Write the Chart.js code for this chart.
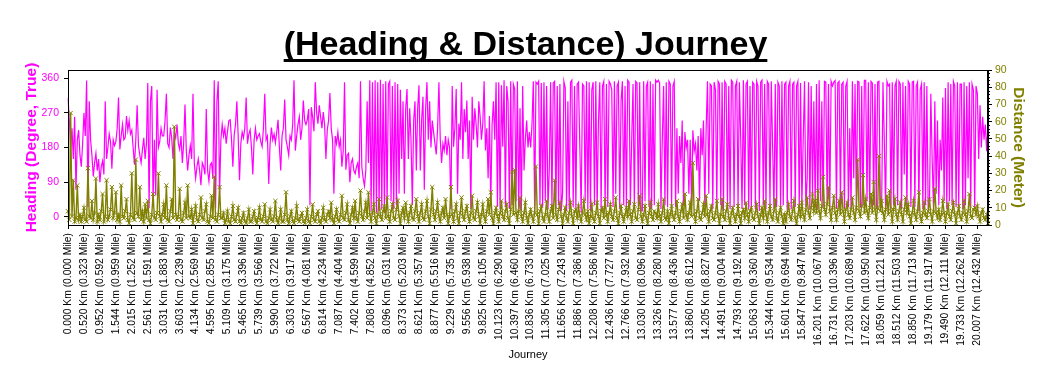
<!DOCTYPE html>
<html><head><meta charset="utf-8">
<script src="https://cdn.jsdelivr.net/npm/chart.js@4.4.0/dist/chart.umd.min.js"></script>
<style>html,body{margin:0;padding:0;background:#fff;}#wrap{width:1050px;height:383px;}</style>
</head><body><div id="wrap"><canvas id="c" width="1050" height="383"></canvas></div>
<script>
const chartTitle = "(Heading & Distance) Journey";
const kmLabels = ["0.000","0.520","0.952","1.544","2.015","2.561","3.031","3.603","4.134","4.595","5.109","5.465","5.739","5.990","6.303","6.567","6.814","7.087","7.402","7.808",
"8.096","8.373","8.621","8.877","9.229","9.556","9.825","10.123","10.397","10.836","11.305","11.656","11.886","12.208","12.436","12.766","13.030","13.326","13.577","13.860",
"14.205","14.491","14.793","15.063","15.344","15.601","15.847","16.201","16.731","17.203","17.622","18.059","18.512","18.850","19.179","19.490","19.733","20.007"];
const mileLabels = ["0.000","0.323","0.592","0.959","1.252","1.591","1.883","2.239","2.569","2.855","3.175","3.396","3.566","3.722","3.917","4.081","4.234","4.404","4.599","4.852",
"5.031","5.203","5.357","5.516","5.735","5.938","6.105","6.290","6.460","6.733","7.025","7.243","7.386","7.586","7.727","7.932","8.096","8.280","8.436","8.612",
"8.827","9.004","9.192","9.360","9.534","9.694","9.847","10.067","10.396","10.689","10.950","11.221","11.503","11.713","11.917","12.111","12.262","12.432"];
const headingTicks = [0, 90, 180, 270, 360];
const distanceTicks = [0, 10, 20, 30, 40, 50, 60, 70, 80, 90];
const heading = [
309,250,180,230,150,260,70,200,225,160,130,190,
270,210,354,25,300,200,160,105,140,165,120,150,
90,130,145,110,300,150,180,215,195,125,200,185,
195,230,310,175,210,240,200,205,262,225,250,215,
225,180,135,200,290,185,160,140,175,205,150,190,
348,22,300,340,40,200,55,330,180,195,230,210,
210,250,320,190,180,232,205,150,220,205,240,190,
175,210,140,190,292,170,120,160,185,150,320,140,
100,130,150,120,82,140,130,110,280,120,92,135,
140,100,355,22,300,352,60,200,240,210,230,190,
222,250,252,200,130,212,240,300,210,95,190,220,
205,230,310,190,215,226,180,110,200,230,200,210,
216,195,182,230,320,200,210,85,190,232,200,215,
192,220,252,180,120,210,230,305,200,182,160,210,
200,240,355,172,210,240,260,200,230,302,250,240,
252,280,30,285,260,222,350,270,242,290,260,230,
272,240,150,225,250,322,230,200,60,210,190,220,
182,200,130,170,350,122,160,165,90,140,150,120,
112,130,140,100,352,130,100,80,120,300,140,355,
15,350,20,355,10,350,15,356,20,345,10,352,
25,345,352,40,340,20,350,30,345,60,330,150,
300,60,280,332,150,282,200,30,250,300,120,280,
342,120,250,312,70,280,350,200,300,180,250,220,
190,162,230,350,202,140,190,172,210,160,200,180,
20,340,182,230,332,60,242,200,350,150,280,220,
302,150,250,20,312,200,282,240,180,300,260,200,
242,352,172,230,100,262,30,240,300,200,350,25,
350,20,342,182,355,25,340,300,20,352,30,345,
332,40,352,20,282,15,340,120,200,250,180,220,
180,240,352,15,350,345,352,30,348,25,350,40,
340,20,120,350,25,348,352,20,340,30,345,15,
60,352,335,15,300,20,350,355,25,340,20,345,
350,180,10,345,340,40,352,20,350,15,330,350,
30,352,20,250,350,15,340,352,20,345,25,352,
345,330,25,352,60,340,350,20,300,352,30,340,
20,355,350,30,200,345,20,352,348,25,350,15,
15,352,40,340,350,25,352,20,345,30,355,350,
355,348,20,200,340,30,350,25,352,345,20,340,
352,25,230,60,210,140,250,30,220,180,200,60,
200,30,225,170,190,120,210,40,230,160,250,25,
230,352,60,345,340,20,350,330,25,352,345,30,
350,15,352,345,30,340,20,355,350,25,340,352,
25,350,200,20,355,30,345,352,20,340,15,350,
345,20,352,340,15,350,355,30,345,20,352,345,
30,352,180,20,345,25,350,340,20,352,30,345,
350,15,340,352,20,345,350,25,340,352,20,348,
30,200,352,25,100,350,20,340,60,300,25,345,
20,355,40,300,25,352,350,30,345,20,352,340,
350,354,20,348,352,30,345,350,20,340,352,25,
230,20,352,100,345,15,352,350,25,340,30,355,
355,40,350,20,352,348,30,345,20,350,352,25,
25,350,200,15,352,340,345,20,350,30,340,352,
30,352,345,20,350,110,340,20,352,345,25,350,
352,25,340,350,15,330,345,20,350,30,340,20,
40,320,150,20,300,60,250,30,200,120,310,40,
335,20,350,40,345,30,352,340,25,350,20,345,
345,20,350,30,340,100,350,25,345,330,20,340,
320,150,290,180,260,200,240,170,240];
const distance = [
8,3,65,5,26,2,4,23,3,6,2,5,
10,3,2,33,5,4,14,3,7,27,2,6,
3,8,18,2,5,26,3,5,9,22,4,7,
19,3,6,2,23,5,4,8,15,3,1,6,
30,4,3,38,7,5,22,3,8,2,12,4,
14,3,1,6,18,4,3,7,30,5,2,6,
12,4,23,3,2,8,15,4,57,6,3,5,
21,3,2,7,13,4,23,5,4,9,1,6,
11,3,2,6,16,4,3,8,12,2,1,5,
17,4,28,3,2,6,22,4,4,7,1,3,
8,2,1,5,11,3,2,6,10,2,1,4,
7,2,1,4,9,2,2,5,8,3,1,4,
10,3,2,5,12,2,1,4,9,3,2,5,
14,3,1,4,9,2,2,6,19,3,1,5,
8,2,1,4,11,3,2,5,7,2,1,4,
9,2,1,5,12,3,2,6,8,2,1,4,
10,3,2,6,8,4,13,3,1,5,9,3,
2,6,17,4,3,7,12,3,1,6,10,4,
14,4,2,7,20,5,3,8,13,4,19,6,
2,7,12,4,1,6,15,5,3,8,11,4,
16,5,2,8,12,4,3,9,14,5,1,7,
10,4,13,6,2,7,11,4,3,8,15,5,
2,7,12,4,3,8,14,5,1,9,22,6,
3,8,13,5,2,7,10,4,15,6,1,5,
22,6,2,8,12,4,1,7,16,5,3,8,
11,5,2,7,17,4,3,8,13,5,1,6,
12,5,2,8,15,6,19,4,1,7,10,5,
2,7,14,5,3,8,12,4,1,9,31,6,
32,7,3,8,16,5,2,7,13,4,1,6,
9,5,2,7,34,6,1,8,11,4,2,6,
14,5,2,8,11,4,26,6,3,9,13,5,
1,6,10,4,2,7,13,5,1,8,9,4,
11,5,2,7,14,6,3,8,1,5,12,4,
2,7,13,5,1,8,10,4,15,6,2,7,
12,5,3,8,16,4,1,7,11,5,2,6,
10,5,14,6,2,8,12,4,3,9,17,5,
2,6,11,4,1,7,13,5,3,8,7,4,
12,5,2,7,15,4,3,8,1,6,11,5,
3,7,14,5,2,8,12,4,18,6,3,7,
13,5,36,6,2,8,15,4,3,7,12,5,
17,6,2,8,11,4,3,7,14,5,1,6,
15,5,3,8,12,4,1,7,10,5,2,6,
11,5,1,7,9,4,13,6,2,8,10,4,
3,7,12,5,1,6,10,4,14,6,2,7,
11,5,3,8,15,4,2,7,10,5,1,6,
2,7,12,5,3,8,14,4,1,6,11,5,
13,6,3,9,16,7,4,10,18,8,14,7,
20,8,4,11,28,9,6,12,22,8,3,10,
17,7,3,9,14,6,19,8,2,9,13,6,
4,9,16,7,3,10,38,8,5,11,29,7,
15,8,4,10,18,7,25,9,3,10,40,8,
14,7,3,9,17,6,20,8,2,9,15,6,
3,8,13,6,2,9,16,7,12,5,1,7,
14,6,3,8,19,5,2,7,13,6,4,8,
15,6,2,8,21,7,4,9,3,6,14,7,
2,7,12,5,3,8,13,6,1,7,11,5,
3,7,14,6,2,8,18,5,4,9,10,6,
11,5,2,7,9,4,3,6,1];

const STEP = 12;
const labels = heading.map((_, i) => (i % STEP === 0 && kmLabels[i / STEP] !== undefined)
  ? kmLabels[i / STEP] + " Km (" + mileLabels[i / STEP] + " Mile)" : "");

const FONT = "'Liberation Sans', Arial, sans-serif";
const MAG = "#FF00FF", OLIVE = "#808000";

const deco = {
  id: 'deco',
  afterDraw(chart) {
    const ctx = chart.ctx, a = chart.chartArea;
    ctx.save();
    ctx.strokeStyle = '#000'; ctx.lineWidth = 1;
    ctx.strokeRect(Math.round(a.left) + 0.5, Math.round(a.top) + 0.5, Math.round(a.right - a.left) - 1, Math.round(a.bottom - a.top));
    const y2 = chart.scales.y2;
    ctx.beginPath();
    for (let v = 0; v <= 90; v += 2) {
      if (v % 10 === 0) continue;
      const py = Math.round(y2.getPixelForValue(v)) + 0.5;
      ctx.moveTo(a.right, py); ctx.lineTo(a.right + 2, py);
    }
    ctx.stroke();
    ctx.font = "bold 34px " + FONT;
    ctx.fillStyle = '#000'; ctx.textAlign = 'center'; ctx.textBaseline = 'alphabetic';
    ctx.fillText(chartTitle, 525.5, 55);
    const w = ctx.measureText(chartTitle).width;
    ctx.fillRect(525.5 - w / 2, 59, w, 3);
    ctx.restore();
  }
};

new Chart(document.getElementById('c'), {
  type: 'line',
  data: {
    labels: labels,
    datasets: [
      { label: 'Distance', data: distance, yAxisID: 'y2', borderColor: OLIVE, backgroundColor: OLIVE,
        borderWidth: 1.4, pointStyle: 'crossRot', pointRadius: 3, pointBorderWidth: 1, pointBorderColor: OLIVE,
        tension: 0, order: 1 },
      { label: 'Heading', data: heading, yAxisID: 'y', borderColor: MAG, backgroundColor: MAG,
        borderWidth: 1.2, pointRadius: 0, tension: 0, order: 2 }
    ]
  },
  options: {
    responsive: false, animation: false, devicePixelRatio: 1,
    layout: { padding: { top: 70, left: 0, right: 0, bottom: 0 } },
    plugins: { legend: { display: false }, tooltip: { enabled: false }, title: { display: false } },
    scales: {
      x: {
        type: 'category', offset: false,
        grid: { display: true, drawOnChartArea: false, tickLength: 4, color: '#000' },
        border: { display: true, color: '#000' },
        afterBuildTicks: (s) => { s.ticks = s.ticks.filter(t => t.value % STEP === 0 && labels[t.value] !== ""); },
        afterFit: (s) => { s.height = 158; },
        ticks: { autoSkip: false, minRotation: 90, maxRotation: 90, padding: 4, color: '#000',
                 font: { family: FONT, size: 10.3 } },
        title: { display: true, text: 'Journey', color: '#000', font: { family: FONT, size: 11 },
                 padding: { top: 0, bottom: 21 } }
      },
      y: {
        position: 'left', min: -21.6, max: 381.6,
        afterBuildTicks: (s) => { s.ticks = headingTicks.map(v => ({ value: v })); },
        afterFit: (s) => { s.width = 68; },
        grid: { display: true, drawOnChartArea: false, tickLength: 4, color: '#000' },
        border: { display: true, color: '#000' },
        ticks: { color: MAG, padding: 5, font: { family: FONT, size: 10.5 } },
        title: { display: true, text: 'Heading (Degree, True)', color: MAG,
                 font: { family: FONT, size: 15.5, weight: 'bold' }, padding: { top: 22, bottom: 0 } }
      },
      y2: {
        position: 'right', min: 0, max: 90,
        afterBuildTicks: (s) => { s.ticks = distanceTicks.map(v => ({ value: v })); },
        afterFit: (s) => { s.width = 62; },
        grid: { display: true, drawOnChartArea: false, tickLength: 4, color: '#000' },
        border: { display: true, color: '#000' },
        ticks: { color: OLIVE, padding: 3, font: { family: FONT, size: 10.5 } },
        title: { display: true, text: 'Distance (Meter)', color: OLIVE,
                 font: { family: FONT, size: 15.5, weight: 'bold' }, padding: { top: 22, bottom: 0 } }
      }
    }
  },
  plugins: [deco]
});
</script></body></html>
